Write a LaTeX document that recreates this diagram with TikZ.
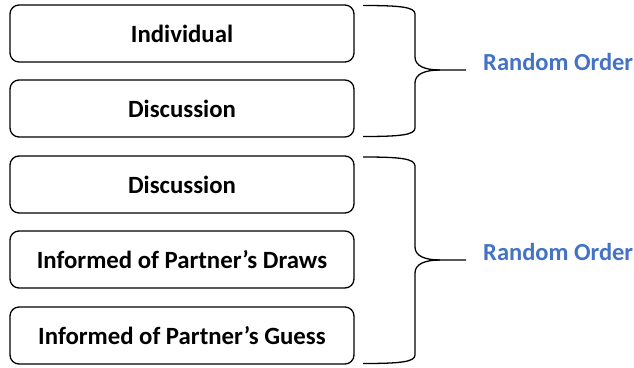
\documentclass[tikz,border=0pt]{standalone}
\usepackage{fontspec}
\setmainfont{Carlito}
\definecolor{ordblue}{HTML}{4472C4}
\begin{document}
\begin{tikzpicture}[x=1pt,y=-1pt,
  stepbox/.style={draw=black,line width=1.3pt,rounded corners=9pt,minimum width=344pt,minimum height=57pt,inner sep=0pt,font=\fontsize{24.8}{28}\selectfont\bfseries},
  bracepath/.style={draw=black,line width=1.3pt},
  ordlabel/.style={anchor=west,text=ordblue,font=\fontsize{24.5}{28}\selectfont\bfseries,inner sep=0pt}]
\useasboundingbox (0,0) rectangle (634,367);
\node[stepbox] (b1) at (182,33.5) {Individual};
\node[stepbox] (b2) at (182,108.5) {Discussion};
\node[stepbox] (b3) at (182,184.5) {Discussion};
\node[stepbox] (b4) at (182,259.5) {Informed of Partner’s Draws};
\node[stepbox] (b5) at (182,335.5) {Informed of Partner’s Guess};
% brace 1
\coordinate (t1) at (466,70);
\draw[bracepath] (363,5.5) .. controls (400,5.5) and (415,7) .. (415,14) -- (415,57)
  .. controls (415,66) and (425,70) .. (440,70) -- (t1);
\draw[bracepath] (440,70) .. controls (425,70) and (415,74) .. (415,83) -- (415,128)
  .. controls (415,135) and (400,136.5) .. (363,136.5);
\node[ordlabel] (r1) at (483,62) {Random Order};
% brace 2
\coordinate (t2) at (466,260);
\draw[bracepath] (363,157) .. controls (400,157) and (415,158.5) .. (415,166) -- (415,247)
  .. controls (415,256) and (425,260) .. (440,260) -- (t2);
\draw[bracepath] (440,260) .. controls (425,260) and (415,264) .. (415,273) -- (415,355)
  .. controls (415,362) and (400,363.5) .. (363,363.5);
\node[ordlabel] (r2) at (483,252) {Random Order};
\end{tikzpicture}
\end{document}
